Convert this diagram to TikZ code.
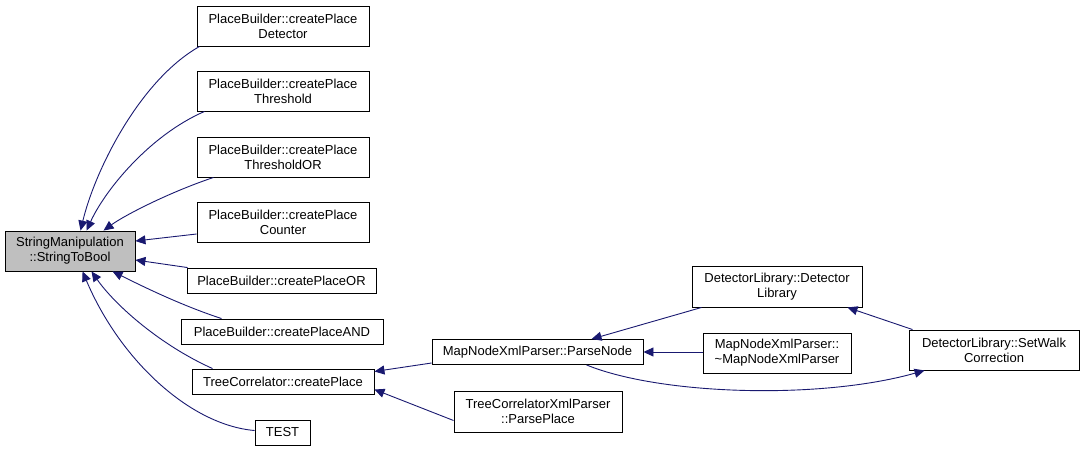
\documentclass[tikz,border=0pt]{standalone}
\usepackage{fontspec}
\setmainfont{Liberation Sans}
\usetikzlibrary{arrows.meta}
\definecolor{edgeblue}{HTML}{191970}
\definecolor{hlgray}{HTML}{BFBFBF}
\tikzset{
  fbox/.style={draw=black, fill=white, line width=0.9pt, inner sep=0pt, align=center,
    font=\fontsize{13}{15}\selectfont},
  hlbox/.style={fbox, fill=hlgray},
  edge/.style={draw=edgeblue, line width=0.9pt, -{Triangle[length=10pt,width=9pt]}},
}
\begin{document}
\begin{tikzpicture}[x=1pt,y=-1pt]
\useasboundingbox (0,0) rectangle (1084,451);
% nodes
\node[hlbox, minimum width=130, minimum height=40] (stb) at (70,251) {StringManipulation\\::StringToBool};
\node[fbox, minimum width=172, minimum height=40] (det) at (283,26) {PlaceBuilder::createPlace\\Detector};
\node[fbox, minimum width=172, minimum height=40] (thr) at (283,91) {PlaceBuilder::createPlace\\Threshold};
\node[fbox, minimum width=172, minimum height=40] (thror) at (283,157) {PlaceBuilder::createPlace\\ThresholdOR};
\node[fbox, minimum width=172, minimum height=40] (cnt) at (283,222) {PlaceBuilder::createPlace\\Counter};
\node[fbox, minimum width=189, minimum height=25] (or) at (281.5,280.5) {PlaceBuilder::createPlaceOR};
\node[fbox, minimum width=202, minimum height=25] (and) at (282,331.5) {PlaceBuilder::createPlaceAND};
\node[fbox, minimum width=182, minimum height=25] (tcp) at (283,381.5) {TreeCorrelator::createPlace};
\node[fbox, minimum width=55, minimum height=25] (test) at (282.5,432.5) {TEST};
\node[fbox, minimum width=211, minimum height=25] (pn) at (537.5,352) {MapNodeXmlParser::ParseNode};
\node[fbox, minimum width=168, minimum height=41] (pp) at (538,411.5) {TreeCorrelatorXmlParser\\::ParsePlace};
\node[fbox, minimum width=170, minimum height=41] (dl) at (777,286.5) {DetectorLibrary::Detector\\Library};
\node[fbox, minimum width=148, minimum height=40] (dm) at (777,353) {MapNodeXmlParser::\\\textasciitilde MapNodeXmlParser};
\node[fbox, minimum width=170, minimum height=40] (sw) at (994,350) {DetectorLibrary::SetWalk\\Correction};
% edges to StringToBool
\draw[edge] ([xshift=3]det.south west) .. controls (140,80) and (95,170) .. ([xshift=76]stb.north west);
\draw[edge] ([xshift=8]thr.south west) .. controls (150,135) and (105,190) .. ([xshift=82]stb.north west);
\draw[edge] ([xshift=17]thror.south west) .. controls (170,192) and (125,215) .. ([xshift=99]stb.north west);
\draw[edge] ([yshift=-12]cnt.west) -- ([yshift=10]stb.east);
\draw[edge] ([xshift=1]or.north west) -- ([yshift=-9]stb.east);
\draw[edge] ([xshift=41]and.north west) .. controls (180,305) and (140,285) .. ([xshift=108]stb.south west);
\draw[edge] ([xshift=21]tcp.north west) .. controls (160,345) and (115,305) .. ([xshift=87]stb.south west);
\draw[edge] ([yshift=2]test.west) .. controls (190,425) and (120,360) .. ([xshift=78]stb.south west);
% edges to createPlace
\draw[edge] ([yshift=-11]pn.west) -- ([yshift=10]tcp.east);
\draw[edge] ([yshift=-9]pp.west) -- ([yshift=-8]tcp.east);
% edges to ParseNode
\draw[edge] ([xshift=10]dl.south west) -- ([xshift=160]pn.north west);
\draw[edge] (dm.west |- pn.east) -- (pn.east);
% SetWalk -> DetectorLibrary
\draw[edge] ([xshift=4]sw.north west) -- ([xshift=-15]dl.south east);
% ParseNode -> SetWalk
\draw[edge] ([xshift=155]pn.south west) .. controls (660,395) and (820,400) .. ([xshift=16]sw.south west);
\end{tikzpicture}
\end{document}
